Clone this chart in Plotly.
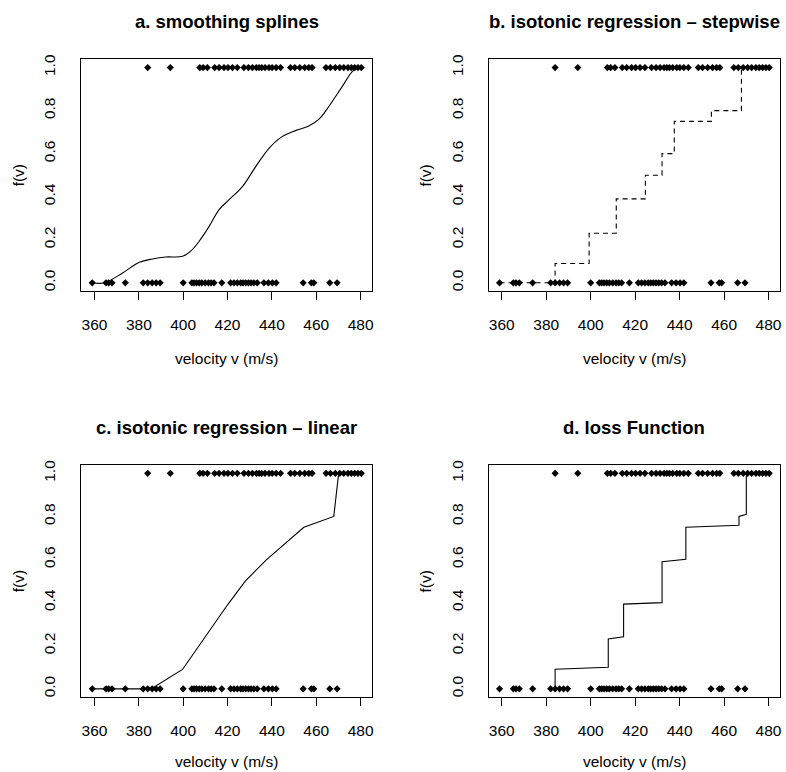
import plotly.graph_objects as go
from plotly.subplots import make_subplots

# ---------------- data ----------------
v_one = [384.0, 394.2, 407.5, 409.0, 410.9, 414.2, 416.2, 418.4, 420.2, 422.2, 424.4,
         427.4, 429.4, 431.2, 433.0, 434.2, 435.4, 436.9, 438.7, 440.1, 441.9, 443.9,
         448.4, 450.3, 452.6, 454.8, 456.6, 458.1, 464.4, 466.4, 468.6, 470.6, 472.4,
         474.3, 475.8, 477.3, 478.8, 480.3]
v_zero = [359.0, 365.2, 366.4, 367.9, 373.9, 382.0, 384.0, 386.0, 387.8, 389.6, 400.0,
          403.9, 404.9, 406.0, 407.2, 408.4, 409.9, 411.4, 412.6, 413.9, 417.4, 421.4,
          422.9, 424.4, 425.9, 427.0, 428.2, 429.4, 430.6, 431.9, 433.4, 436.4, 438.4,
          440.2, 441.9, 454.1, 457.8, 458.9, 466.1, 469.4]

# a. smoothing spline (traced)
spl_v = [359.0, 364.5, 372.7, 380.2, 386.2, 392.2, 399.7, 403.4, 407.2, 411.7, 416.2,
         420.7, 426.7, 432.7, 438.7, 444.6, 450.6, 456.6, 461.1, 465.6, 471.6, 476.9, 480.3]
spl_f = [0.0, 0.0, 0.046, 0.095, 0.111, 0.12, 0.123, 0.147, 0.193, 0.262, 0.34,
         0.386, 0.447, 0.54, 0.625, 0.679, 0.707, 0.728, 0.759, 0.818, 0.91, 0.988, 1.0]

# b. isotonic regression, stepwise
step_v = [359.0, 384.0, 399.3, 411.5, 424.6, 432.1, 437.6, 454.3, 467.8, 480.3]
step_f = [0.0, 0.09, 0.23, 0.39, 0.50, 0.60, 0.75, 0.80, 1.0, 1.0]

# c. isotonic regression, linear
lin_v = [359.0, 385.5, 399.7, 409.2, 420.0, 428.0, 437.6, 454.4, 467.9, 470.1, 480.3]
lin_f = [0.0, 0.0, 0.09, 0.23, 0.39, 0.50, 0.60, 0.75, 0.80, 1.0, 1.0]

# d. loss function
loss_v = [384.0, 384.0, 407.9, 407.9, 414.8, 414.8, 432.1, 432.1, 442.8, 442.8,
          466.7, 466.7, 470.0, 470.0, 480.1]
loss_f = [0.0, 0.091, 0.10, 0.231, 0.242, 0.393, 0.40, 0.59, 0.601, 0.75,
          0.759, 0.80, 0.81, 1.0, 1.0]

titles = ["a. smoothing splines", "b. isotonic regression \u2013 stepwise",
          "c. isotonic regression \u2013 linear", "d. loss Function"]
xticks = [360, 380, 400, 420, 440, 460, 480]
yticks = [0.0, 0.2, 0.4, 0.6, 0.8, 1.0]
ytick_text = ["0.0", "0.2", "0.4", "0.6", "0.8", "1.0"]
xlabel = "velocity v (m/s)"
ylabel = "f(v)"

# ---------------- layout geometry ----------------
W, H = 786, 772
FONT = "Liberation Sans, Arial, Helvetica, sans-serif"
box_x = [(81.7, 373.0), (490.0, 782.0)]
box_y = [(54.3, 288.3), (462.7, 697.0)]
xtitle_y = [356.0, 761.0]

all_v = v_one + v_zero
vmin, vmax = min(all_v), max(all_v)
pad = 0.04 * (vmax - vmin)
xr = [vmin - pad, vmax + pad]
yr = [-0.04, 1.04]

fig = make_subplots(rows=2, cols=2)

curves = [
    (spl_v, spl_f, "spline", None),
    (step_v, step_f, "hv", "5px,4px"),
    (lin_v, lin_f, "linear", None),
    (loss_v, loss_f, "linear", None),
]

annotations = []
for i in range(4):
    r, c = i // 2 + 1, i % 2 + 1
    fig.add_trace(go.Scatter(x=v_one, y=[1.0] * len(v_one), mode="markers",
                             marker=dict(symbol="diamond", size=5.5, color="black"),
                             showlegend=False), row=r, col=c)
    fig.add_trace(go.Scatter(x=v_zero, y=[0.0] * len(v_zero), mode="markers",
                             marker=dict(symbol="diamond", size=5.5, color="black"),
                             showlegend=False), row=r, col=c)
    cv, cf, shape, dash = curves[i]
    line = dict(color="black", width=1.1, shape=shape)
    if shape == "spline":
        line["smoothing"] = 1.0
    if dash:
        line["dash"] = dash
    fig.add_trace(go.Scatter(x=cv, y=cf, mode="lines", line=line, showlegend=False),
                  row=r, col=c)

    x0, x1 = box_x[c - 1]
    y0, y1 = box_y[r - 1]
    idx = "" if i == 0 else str(i + 1)
    fig.layout["xaxis" + idx].update(
        domain=[x0 / W, x1 / W], range=xr, tickvals=xticks,
        ticks="outside", ticklen=8, tickwidth=1, tickcolor="black",
        showline=True, linecolor="black", linewidth=1, mirror=True,
        showgrid=False, zeroline=False, ticklabelstandoff=11,
        tickfont=dict(family=FONT, size=15.5, color="black"))
    fig.layout["yaxis" + idx].update(
        domain=[1 - y1 / H, 1 - y0 / H], range=yr, tickvals=yticks, ticktext=ytick_text,
        ticks="", showline=True, linecolor="black", linewidth=1, mirror=True,
        showgrid=False, zeroline=False, tickangle=-90, ticklabelstandoff=19,
        tickfont=dict(family=FONT, size=15.5, color="black"))

    cx = (x0 + x1) / 2
    cy = (y0 + y1) / 2
    annotations.append(dict(text="<b>" + titles[i] + "</b>", x=cx / W, y=1 - (y0 - 37.5) / H,
                            xref="paper", yref="paper", showarrow=False,
                            xanchor="center", yanchor="middle",
                            font=dict(family=FONT, size=18.5, color="black")))
    annotations.append(dict(text=xlabel, x=cx / W, y=1 - xtitle_y[r - 1] / H,
                            xref="paper", yref="paper", showarrow=False,
                            xanchor="center", yanchor="middle",
                            font=dict(family=FONT, size=15.5, color="black")))
    annotations.append(dict(text=ylabel, x=(x0 - 63.5) / W, y=1 - cy / H,
                            xref="paper", yref="paper", showarrow=False, textangle=-90,
                            xanchor="center", yanchor="middle",
                            font=dict(family=FONT, size=15.5, color="black")))

fig.update_layout(width=W, height=H, margin=dict(l=0, r=0, t=0, b=0),
                  paper_bgcolor="white", plot_bgcolor="white",
                  annotations=annotations, showlegend=False)

fig.write_html("out.html")
